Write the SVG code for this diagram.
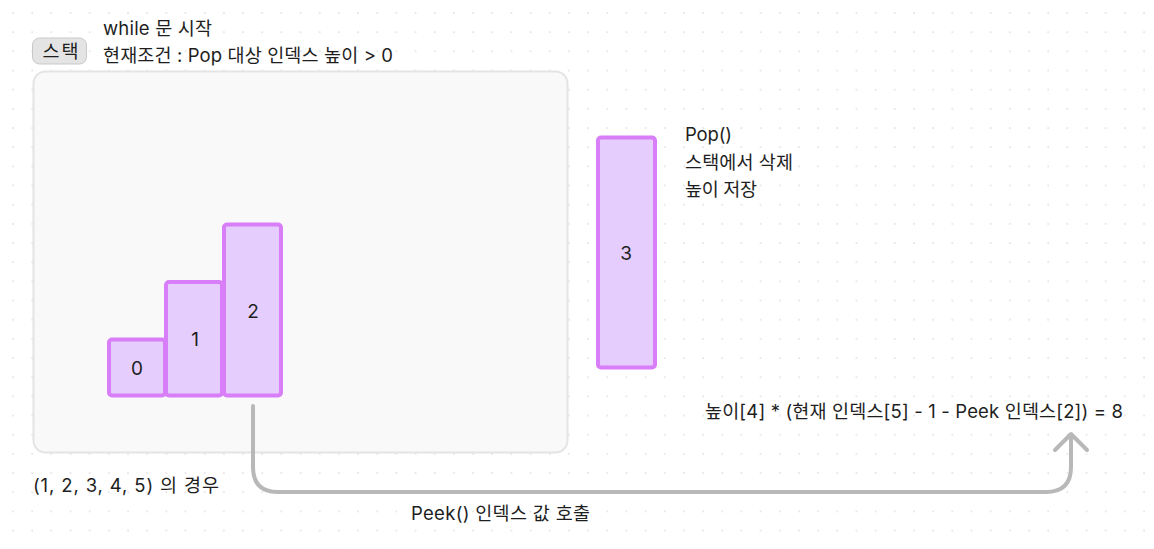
<svg xmlns="http://www.w3.org/2000/svg" width="1154" height="549" viewBox="0 0 1154 549">
  <defs>
    <pattern id="grid" x="12" y="12" width="19.17" height="19.17" patternUnits="userSpaceOnUse">
      <rect x="0.3" y="0.3" width="1.4" height="1.4" fill="#d6d6d6"/>
    </pattern>
    <style>
      text { font-family: Inter, "Noto Sans CJK KR", sans-serif; font-size: 18.5px; fill: #1e1e1e; }
      .bar { fill: #e5cdfd; stroke: #d77ef8; stroke-width: 4; }
      .num { text-anchor: middle; font-size: 19px; }
      .conn { fill: none; stroke: #b8b8b8; stroke-width: 4; stroke-linecap: round; stroke-linejoin: round; }
    </style>
  </defs>
  <rect width="1154" height="549" fill="#ffffff"/>
  <rect width="1154" height="549" fill="url(#grid)"/>

  <g id="container">
    <rect x="33.5" y="71.5" width="534" height="381" rx="12" fill="#f9f9f9" stroke="#e4e4e4" stroke-width="2"/>
  </g>

  <g id="stack-label">
    <rect x="32.5" y="38" width="54" height="26" rx="7" fill="#e4e4e4" stroke="#c9c9c9" stroke-width="1"/>
    <text x="42.5" y="57.5" textLength="36">스택</text>
  </g>

  <g id="title">
    <text x="103" y="35" textLength="109">while 문 시작</text>
    <text x="103" y="62" textLength="290">현재조건 : Pop 대상 인덱스 높이 &gt; 0</text>
  </g>

  <g id="bar0">
    <rect class="bar" x="109" y="339.5" width="56" height="56" rx="3"/>
    <text class="num" x="137" y="375">0</text>
  </g>
  <g id="bar1">
    <rect class="bar" x="166" y="282" width="56" height="113.5" rx="3"/>
    <text class="num" x="195" y="346">1</text>
  </g>
  <g id="bar2">
    <rect class="bar" x="224" y="224.5" width="57" height="171" rx="3"/>
    <text class="num" x="253" y="318">2</text>
  </g>
  <g id="bar3">
    <rect class="bar" x="598" y="137.5" width="57" height="230" rx="3"/>
    <text class="num" x="626" y="260">3</text>
  </g>

  <g id="pop-note">
    <text x="685" y="141" textLength="47">Pop()</text>
    <text x="685" y="168.5" textLength="108">스택에서 삭제</text>
    <text x="685" y="196" textLength="72">높이 저장</text>
  </g>

  <g id="formula">
    <text x="705" y="418" textLength="418">높이[4] * (현재 인덱스[5] - 1 - Peek 인덱스[2]) = 8</text>
  </g>

  <g id="case-label">
    <text x="33" y="492" textLength="186">(1, 2, 3, 4, 5) 의 경우</text>
  </g>

  <g id="connectors">
    <path class="conn" d="M253 406 V467 Q253 492 278 492 H1046 Q1071 492 1071 467 V435"/>
    <path class="conn" d="M1055 450 L1071 434 L1087 450"/>
    <text x="411" y="520" textLength="179">Peek() 인덱스 값 호출</text>
  </g>
</svg>
